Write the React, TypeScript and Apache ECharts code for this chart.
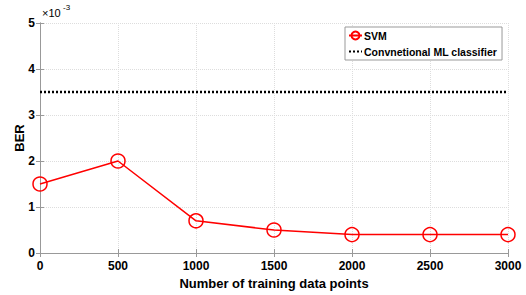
import React, { useEffect, useRef } from "react";
import * as echarts from "echarts";

const xValues = [0, 500, 1000, 1500, 2000, 2500, 3000];
const svmBER = [1.5, 2.0, 0.7, 0.5, 0.4, 0.4, 0.4]; // ×10^-3
const conventionalBER = [3.5, 3.5, 3.5, 3.5, 3.5, 3.5, 3.5]; // ×10^-3
const xTicks = [0, 500, 1000, 1500, 2000, 2500, 3000];
const yTicks = [0, 1, 2, 3, 4, 5];

const FONT = "Liberation Sans, Arial, sans-serif";

export default function App() {
  const ref = useRef<HTMLDivElement>(null);
  useEffect(() => {
    if (!ref.current) return;
    const chart = echarts.init(ref.current, null, { renderer: "svg" });
    const axisCommon = {
      axisLine: { show: true, lineStyle: { color: "#999", width: 1 } },
      axisTick: { show: true, inside: true, length: 4, lineStyle: { color: "#999" } },
    };
    chart.setOption({
      animation: false,
      backgroundColor: "#fff",
      grid: { left: 40, right: 18, top: 23, bottom: 42 },
      legend: {
        orient: "vertical",
        left: 345,
        top: 27,
        itemWidth: 13,
        itemHeight: 10,
        itemGap: 5,
        padding: [3, 5, 3, 3],
        borderColor: "#999",
        borderWidth: 1,
        backgroundColor: "#fff",
        textStyle: { fontFamily: FONT, fontWeight: "bold", fontSize: 10.5, color: "#000", padding: [0, 0, 0, -3] },
        data: [
          { name: "SVM" },
          { name: "Convnetional ML classifier", itemStyle: { opacity: 0 } },
        ],
      },
      xAxis: [
        {
          type: "value",
          min: 0,
          max: 3000,
          interval: 500,
          name: "Number of training data points",
          nameLocation: "middle",
          nameGap: 24,
          nameMoveOverlap: false,
          nameTextStyle: { fontFamily: FONT, fontWeight: "bold", fontSize: 13, color: "#000" },
          axisLabel: {
            fontFamily: FONT,
            fontWeight: "bold",
            fontSize: 12,
            color: "#000",
            margin: 7,
            formatter: (v: number) => (xTicks.includes(v) ? String(v) : ""),
          },
          splitLine: { show: true, lineStyle: { color: "#ddd", type: "dotted" } },
          ...axisCommon,
        },
        {
          type: "value",
          position: "top",
          min: 0,
          max: 3000,
          interval: 500,
          axisLabel: { show: false },
          splitLine: { show: false },
          ...axisCommon,
        },
      ],
      yAxis: [
        {
          type: "value",
          min: 0,
          max: 5,
          interval: 1,
          name: "BER",
          nameLocation: "middle",
          nameGap: 14,
          nameMoveOverlap: false,
          nameRotate: 90,
          nameTextStyle: { fontFamily: FONT, fontWeight: "bold", fontSize: 13, color: "#000" },
          axisLabel: {
            fontFamily: FONT,
            fontWeight: "bold",
            fontSize: 12,
            color: "#000",
            margin: 5,
            formatter: (v: number) => (yTicks.includes(v) ? String(v) : ""),
          },
          splitLine: { show: true, lineStyle: { color: "#ddd", type: "dotted" } },
          ...axisCommon,
        },
        {
          type: "value",
          position: "right",
          min: 0,
          max: 5,
          interval: 1,
          axisLabel: { show: false },
          splitLine: { show: false },
          ...axisCommon,
        },
      ],
      graphic: [
        {
          type: "text",
          left: 42,
          top: 7,
          style: { text: "×10", fontFamily: FONT, fontSize: 11, fill: "#000" },
        },
        {
          type: "text",
          left: 63,
          top: 3,
          style: { text: "-3", fontFamily: FONT, fontSize: 8, fill: "#000" },
        },
      ],
      series: [
        {
          name: "SVM",
          type: "line",
          data: xValues.map((x, i) => [x, svmBER[i]]),
          symbol: "circle",
          symbolSize: 14,
          lineStyle: { color: "#ff0000", width: 1.5 },
          itemStyle: { color: "rgba(255,255,255,0)", borderColor: "#ff0000", borderWidth: 1.5 },
          z: 3,
        },
        {
          name: "Convnetional ML classifier",
          type: "line",
          data: xValues.map((x, i) => [x, conventionalBER[i]]),
          symbol: "none",
          lineStyle: { color: "#000", width: 2.5, type: [2, 2] },
          itemStyle: { color: "#000" },
          z: 2,
        },
      ],
    });
    return () => chart.dispose();
  }, []);
  return (
    <div
      ref={ref}
      style={{ position: "absolute", left: 0, top: 0, width: 526, height: 295 }}
    />
  );
}
